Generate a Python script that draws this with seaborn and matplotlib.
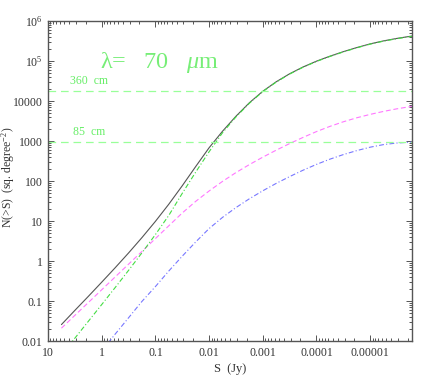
import numpy as np
import pandas as pd
import matplotlib
matplotlib.use("Agg")
import matplotlib.pyplot as plt
import matplotlib.ticker as mticker
import seaborn as sns

# ---- data ----
S_grid = [5.623, 3.162, 1.778, 1.0, 0.5623, 0.3162, 0.1778, 0.1, 0.05623, 0.03162,
          0.01778, 0.01, 0.005623, 0.003162, 0.001778, 0.001, 5.623e-4, 3.162e-4,
          1.778e-4, 1e-4, 5.623e-5, 3.162e-5, 1.778e-5, 1e-5, 5.623e-6, 3.162e-6,
          1.778e-6, 1.66e-6]

N_total = [0.0257, 0.0582, 0.130, 0.295, 0.676, 1.585, 3.85, 9.77, 26.3, 75.9,
           229, 676, 1750, 4150, 9016, 17500, 30200, 47900,
           70800, 98900, 131800, 171000, 216300, 267900, 318400, 367300,
           415000, 419800]

N_green = [0.00447, 0.01175, 0.0309, 0.0813, 0.216, 0.582, 1.603, 4.57, 13.8, 49.0,
           166, 537, 1603, 3981, 8770, 17140, 29650, 47100,
           69660, 97270, 129700, 168300, 212800, 263600, 313300, 361400,
           408300, 413000]

N_magenta = [0.0209, 0.0437, 0.0912, 0.1905, 0.398, 0.832, 1.738, 3.63, 7.59, 15.85,
             30.9, 56.2, 97.7, 162, 257, 394, 589, 861,
             1230, 1718, 2317, 3020, 3802, 4624, 5495, 6383,
             7244, 7345]

S_blue = [1.0, 0.5623, 0.3162, 0.1778, 0.1, 0.05623, 0.03162,
          0.01778, 0.01, 0.005623, 0.003162, 0.001778, 0.001, 5.623e-4, 3.162e-4,
          1.778e-4, 1e-4, 5.623e-5, 3.162e-5, 1.778e-5, 1e-5, 5.623e-6, 3.162e-6,
          1.778e-6, 1.66e-6]
N_blue = [0.00562, 0.0148, 0.038, 0.0977, 0.229, 0.562, 1.318,
          2.985, 6.46, 12.3, 21.6, 35.9, 56.9, 87.1, 128.8,
          186, 260, 351, 457, 575, 700, 813, 891,
          933, 938]

line_levels = [18000, 950]
line_labels = ["360  cm", "85  cm"]
line_label_x = [0.06, 0.07]

x_ticks = [10, 1, 0.1, 0.01, 0.001, 0.0001, 0.00001]
x_ticklabels = ["10", "1", "0.1", "0.01", "0.001", "0.0001", "0.00001"]
y_ticks = [0.01, 0.1, 1, 10, 100, 1000, 10000, 1e5, 1e6]
y_ticklabels = ["0.01", "0.1", "1", "10", "100", "1000", "10000", "10$^{5}$", "10$^{6}$"]

title_text = "λ=   70   $\\mu$m"

# ---- style ----
sns.set_style("ticks")
plt.rcParams['font.family'] = ['Liberation Serif', 'DejaVu Serif']
plt.rcParams['mathtext.fontset'] = 'custom'
plt.rcParams['mathtext.rm'] = 'Liberation Serif'
plt.rcParams['mathtext.it'] = 'Liberation Serif:italic'
plt.rcParams['lines.scale_dashes'] = False

fig = plt.figure(figsize=(4.36, 3.82), dpi=100)
ax = fig.add_axes([48/436, 1-341/382, 364/436, 320/382])

lw = 0.8
sns.lineplot(x=S_grid, y=N_total, ax=ax, color='#555555', lw=lw, sort=False)
sns.lineplot(x=S_grid, y=N_magenta, ax=ax, color='#ff77ff', lw=lw, sort=False,
             linestyle=(0, (3.5, 2.0)))
sns.lineplot(x=S_blue, y=N_blue, ax=ax, color='#7777ff', lw=lw, sort=False,
             linestyle=(0, (3.5, 1.6, 0.8, 1.6)))
sns.lineplot(x=S_grid, y=N_green, ax=ax, color='#44dd44', lw=lw, sort=False,
             linestyle=(0, (3.5, 1.6, 0.8, 1.6)))

for lvl, lab, lx in zip(line_levels, line_labels, line_label_x):
    ax.axhline(lvl, color='#99ff99', lw=0.9, linestyle=(0, (5.5, 3.5)))
    ax.text(lx, lvl * 1.22, lab, transform=ax.get_yaxis_transform(),
            color='#66ee66', fontsize=8.5, va='bottom', ha='left')

ax.text(0.143, 0.853, title_text, transform=ax.transAxes, color='#77ee77',
        fontsize=17.5, va='baseline', ha='left')

ax.set_xscale('log')
ax.set_yscale('log')
ax.set_xlim(10, 1.66e-6)
ax.set_ylim(0.01, 1e6)

ax.xaxis.set_major_locator(mticker.FixedLocator(x_ticks))
ax.xaxis.set_major_formatter(mticker.FixedFormatter(x_ticklabels))
ax.yaxis.set_major_locator(mticker.FixedLocator(y_ticks))
ax.yaxis.set_major_formatter(mticker.FixedFormatter(y_ticklabels))
ax.xaxis.set_minor_locator(mticker.LogLocator(base=10, subs=np.arange(2, 10), numticks=30))
ax.yaxis.set_minor_locator(mticker.LogLocator(base=10, subs=np.arange(2, 10), numticks=30))
ax.xaxis.set_minor_formatter(mticker.NullFormatter())
ax.yaxis.set_minor_formatter(mticker.NullFormatter())

ax.tick_params(which='both', direction='in', top=True, right=True, colors='#555555',
               labelcolor='#333333', labelsize=8.5, width=0.7)
ax.tick_params(which='major', length=4.5, pad=4)
ax.tick_params(which='minor', length=2.3)
for sp in ax.spines.values():
    sp.set_visible(True)
    sp.set_color('#555555')
    sp.set_linewidth(1.0)

ax.set_xlabel("S  (Jy)", fontsize=9, color='#333333', labelpad=3)
ax.set_ylabel("N(>S)  (sq. degree$^{-2}$)", fontsize=8.5, color='#333333')
ax.yaxis.set_label_coords(-0.085, 0.51)

fig.savefig("out.png", dpi=100)
